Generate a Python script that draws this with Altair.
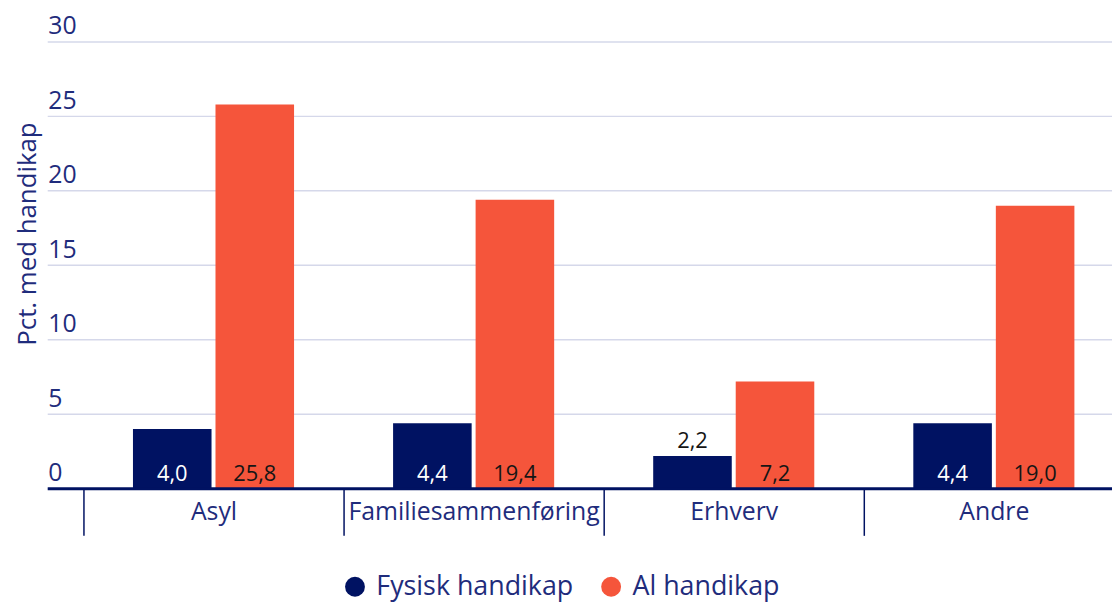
import altair as alt
import pandas as pd

categories = ["Asyl", "Familiesammenføring", "Erhverv", "Andre"]
series = ["Fysisk handikap", "Al handikap"]
fysisk = [4.0, 4.4, 2.2, 4.4]
al = [25.8, 19.4, 7.2, 19.0]
y_ticks = [0, 5, 10, 15, 20, 25, 30]

rows = []
for c, f, a in zip(categories, fysisk, al):
    rows.append({"kategori": c, "serie": series[0], "value": f})
    rows.append({"kategori": c, "serie": series[1], "value": a})
df = pd.DataFrame(rows)
grid_df = pd.DataFrame({"tick": y_ticks})

NAVY = "#001262"
ORANGE = "#F5553B"
TEXT = "#1f2c7c"
GRID = "#d5d8ea"
FONT = "Open Sans"
W = 1072
H = 450
STEP = 262
X0 = 36

x_enc = alt.X(
    "kategori:N",
    sort=categories,
    scale=alt.Scale(range=[X0, X0 + 4 * STEP], paddingInner=0, paddingOuter=0),
    axis=alt.Axis(
        title=None, domain=False, ticks=True, tickBand="extent", tickSize=47,
        tickColor=NAVY, tickWidth=1.5, labelFontSize=25, labelColor=TEXT,
        labelFont=FONT, labelPadding=-36, labelBaseline="top", labelAngle=0,
        labelLimit=0, grid=False,
    ),
)
xo_enc = alt.XOffset("serie:N", sort=series,
                     scale=alt.Scale(paddingInner=0.048, paddingOuter=0.6))
y_enc = alt.Y(
    "value:Q",
    scale=alt.Scale(domain=[0, 30], nice=False),
    axis=alt.Axis(
        values=y_ticks, title="Pct. med handikap", domain=False, ticks=False,
        tickSize=0, labelPadding=0, labelAlign="left", labelBaseline="alphabetic",
        labelOffset=-8, labelFontSize=25, labelColor=TEXT, labelFont=FONT,
        grid=False,
        titleAngle=270, titleX=-12, titleY=193, titleAlign="center",
        titleBaseline="alphabetic", titleFontSize=26, titleFontWeight="normal",
        titleColor=TEXT, titleFont=FONT,
    ),
)

gridlines = alt.Chart(grid_df).mark_rule(color=GRID, strokeWidth=1.5).encode(
    y=alt.Y("tick:Q"), x=alt.value(0), x2=alt.value(W)
)

base = alt.Chart(df)

bars = base.mark_bar().encode(
    x=x_enc,
    xOffset=xo_enc,
    y=y_enc,
    color=alt.Color(
        "serie:N",
        sort=series,
        scale=alt.Scale(domain=series, range=[NAVY, ORANGE]),
        legend=alt.Legend(
            title=None, orient="none", legendX=296, legendY=535,
            direction="horizontal", symbolType="circle", symbolSize=400,
            symbolStrokeWidth=0, labelFontSize=27, labelColor=TEXT,
            labelFont=FONT, labelOffset=8, columnPadding=24, padding=0,
            labelLimit=0,
        ),
    ),
)

labels = base.transform_calculate(
    lab="replace(format(datum.value, '.1f'), '.', ',')",
    ypos="datum.value >= 3 ? 0 : datum.value",
).mark_text(baseline="alphabetic", dy=-8, fontSize=22, font=FONT).encode(
    x=alt.X("kategori:N", sort=categories),
    xOffset=alt.XOffset("serie:N", sort=series),
    y=alt.Y("ypos:Q"),
    text="lab:N",
    color=alt.condition(
        "datum.serie == 'Fysisk handikap' && datum.value >= 3",
        alt.value("white"),
        alt.value("#151515"),
    ),
)

axis_line = alt.Chart(pd.DataFrame({"z": [0]})).mark_rule(
    color=NAVY, strokeWidth=3
).encode(y=alt.datum(0), x=alt.value(0), x2=alt.value(W))

chart = (
    alt.layer(gridlines, bars, labels, axis_line)
    .properties(
        width=W,
        height=H,
        autosize=alt.AutoSizeParams(type="none"),
        padding={"left": 40, "top": 32, "right": 0, "bottom": 115},
    )
    .configure(font=FONT)
    .configure_view(stroke=None)
)

chart.save("out.html", embed_options={"renderer": "svg", "actions": False})
